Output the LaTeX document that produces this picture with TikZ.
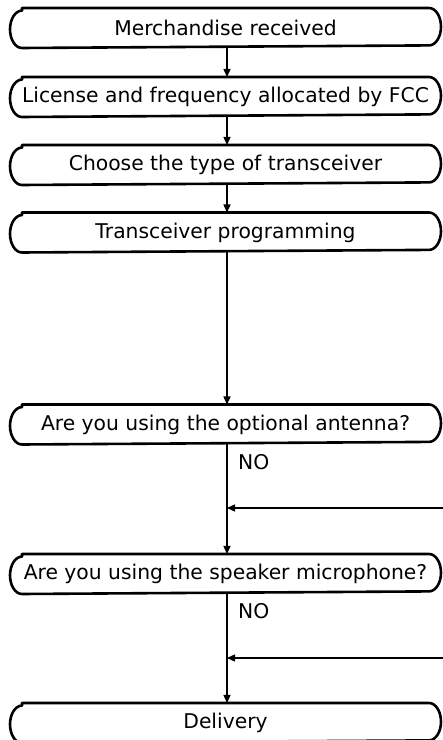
\documentclass[tikz,border=0pt]{standalone}
\usepackage{fontspec}
\setmainfont{DejaVu Sans}
\usetikzlibrary{arrows.meta}
\newcommand\stageoutline[1]{%
  \draw[line width=2.6pt, line join=round]
    ([xshift=12pt]#1.north west) -- ([xshift=-12pt]#1.north east)
    arc[start angle=90, end angle=-90, x radius=12pt, y radius=18.7pt]
    -- ([xshift=12pt]#1.south west)
    arc[start angle=270, end angle=90, x radius=12pt, y radius=18.7pt]
    -- cycle;}
\begin{document}
\begin{tikzpicture}[x=1pt,y=1pt,
  stage/.style={rectangle, minimum width=428.4pt, minimum height=37.4pt,
    inner sep=0pt, outer sep=1.3pt,
    font=\fontsize{20.3pt}{24pt}\selectfont},
  flow/.style={line width=1.3pt, -{Triangle[length=8pt,width=7pt]}},
  nolabel/.style={anchor=base west, inner sep=0pt, font=\fontsize{20.3pt}{24pt}\selectfont}]
\useasboundingbox (0,0) rectangle (443,740);
\coordinate (spine) at (227,0);
\node[stage] (b1) at (225.5,712) {Merchandise received};
\node[stage] (b2) at (225.5,643) {License and frequency allocated by FCC};
\node[stage] (b3) at (225.5,575) {Choose the type of transceiver};
\node[stage] (b4) at (225.5,507.5) {Transceiver programming};
\node[stage] (b5) at (225.5,315.5) {Are you using the optional antenna?};
\node[stage] (b6) at (225.5,166) {Are you using the speaker microphone?};
\node[stage] (b7) at (225.5,17) {Delivery};
\stageoutline{b1}
\stageoutline{b2}
\stageoutline{b3}
\stageoutline{b4}
\stageoutline{b5}
\stageoutline{b6}
\stageoutline{b7}
\node[nolabel] (no1) at (238,270) {NO};
\node[nolabel] (no2) at (238,121) {NO};
\coordinate (in1) at (443,232);
\coordinate (in2) at (443,82);
\draw[flow] (b1.south -| spine) -- (b2.north -| spine);
\draw[flow] (b2.south -| spine) -- (b3.north -| spine);
\draw[flow] (b3.south -| spine) -- (b4.north -| spine);
\draw[flow] (b4.south -| spine) -- (b5.north -| spine);
\draw[flow] (b5.south -| spine) -- (b6.north -| spine);
\draw[flow] (b6.south -| spine) -- (b7.north -| spine);
\draw[flow] (in1) -- (in1 -| spine);
\draw[flow] (in2) -- (in2 -| spine);
\end{tikzpicture}
\end{document}
